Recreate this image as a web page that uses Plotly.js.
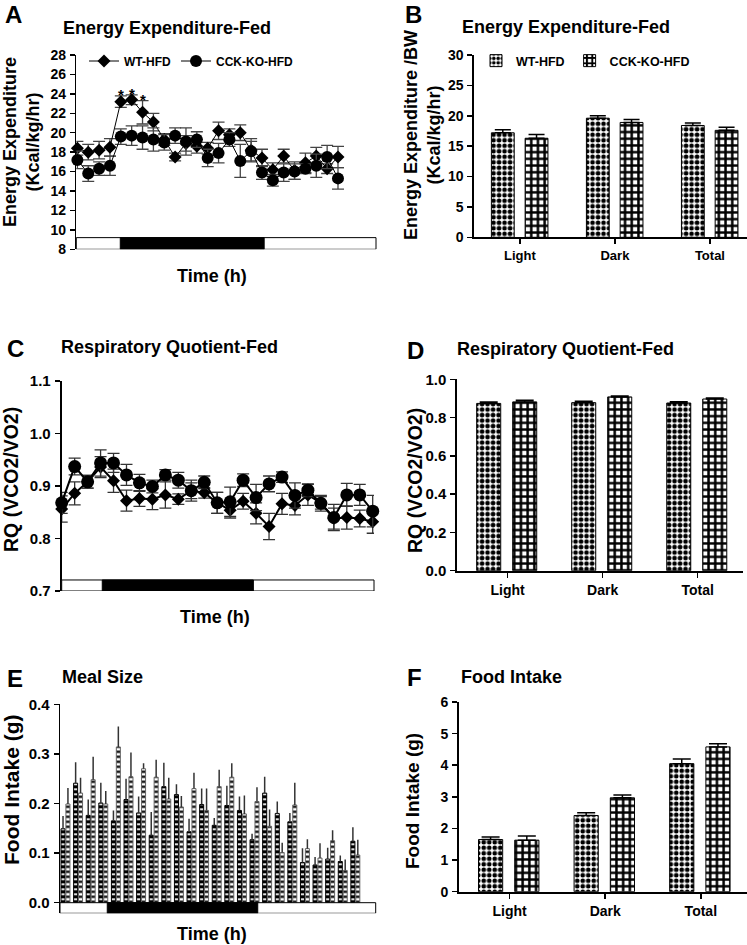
<!DOCTYPE html>
<html>
<head>
<meta charset="utf-8">
<script src="https://cdn.plot.ly/plotly-3.0.1.min.js"></script>
<style>html,body{margin:0;padding:0;background:#fff}#chart{width:747px;height:945px}</style>
</head>
<body>
<div id="chart"></div>
<script>
// ---------------- DATA ----------------
const seriesNames = ['WT-HFD', 'CCK-KO-HFD'];
const categories = ['Light', 'Dark', 'Total'];

// Panel A: Energy expenditure time course (25 hourly points)
const eeWT    = [18.4, 18.0, 18.2, 18.5, 23.2, 23.4, 22.1, 21.1, 19.3, 17.5, 18.9, 18.6, 18.4, 20.2, 19.8, 20.0, 18.2, 17.4, 16.2, 17.6, 16.1, 16.9, 17.6, 16.3, 17.5];
const eeWTerr = [0.7, 0.8, 0.9, 0.9, 0.6, 0.5, 1.2, 0.9, 0.6, 0.4, 0.8, 0.7, 0.6, 0.9, 0.6, 0.8, 1.2, 0.9, 0.7, 0.7, 0.9, 1.0, 0.9, 0.5, 1.1];
const eeKO    = [17.2, 15.8, 16.3, 16.6, 19.6, 19.7, 19.5, 19.3, 19.0, 19.7, 19.1, 19.3, 17.4, 17.9, 19.3, 17.1, 18.1, 15.9, 15.1, 15.9, 16.0, 16.3, 16.6, 17.5, 15.3];
const eeKOerr = [0.9, 0.8, 0.7, 1.0, 0.8, 1.0, 1.2, 1.2, 0.8, 0.8, 1.4, 0.8, 0.9, 1.0, 0.7, 1.7, 1.0, 0.7, 0.6, 0.9, 0.8, 0.5, 1.2, 1.2, 1.1];
const eeSig   = [4, 5, 6];   // indices marked with *

// Panel B: Energy expenditure / BW
const eeBarWT    = [17.2, 19.6, 18.4];
const eeBarWTerr = [0.5, 0.4, 0.4];
const eeBarKO    = [16.3, 18.9, 17.6];
const eeBarKOerr = [0.6, 0.5, 0.5];

// Panel C: RQ time course
const rqWT    = [0.856, 0.886, 0.908, 0.936, 0.910, 0.872, 0.876, 0.875, 0.883, 0.875, 0.891, 0.887, 0.868, 0.854, 0.871, 0.848, 0.823, 0.866, 0.863, 0.883, 0.868, 0.838, 0.840, 0.838, 0.832];
const rqWTerr = [0.025, 0.022, 0.012, 0.020, 0.022, 0.020, 0.015, 0.020, 0.025, 0.010, 0.015, 0.010, 0.020, 0.015, 0.015, 0.020, 0.025, 0.020, 0.018, 0.020, 0.012, 0.020, 0.022, 0.016, 0.022];
const rqKO    = [0.868, 0.937, 0.908, 0.944, 0.944, 0.921, 0.906, 0.899, 0.921, 0.911, 0.891, 0.907, 0.868, 0.870, 0.911, 0.878, 0.904, 0.917, 0.882, 0.892, 0.867, 0.840, 0.883, 0.883, 0.852];
const rqKOerr = [0.020, 0.016, 0.012, 0.025, 0.018, 0.020, 0.016, 0.012, 0.010, 0.015, 0.020, 0.012, 0.020, 0.028, 0.012, 0.025, 0.015, 0.010, 0.024, 0.012, 0.015, 0.025, 0.022, 0.020, 0.030];

// Panel D: RQ bars
const rqBarWT    = [0.874, 0.878, 0.876];
const rqBarWTerr = [0.008, 0.007, 0.007];
const rqBarKO    = [0.882, 0.908, 0.897];
const rqBarKOerr = [0.008, 0.005, 0.005];

// Panel E: Meal size (24 hourly pairs)
const mealWT    = [0.149, 0.241, 0.176, 0.201, 0.165, 0.208, 0.181, 0.136, 0.234, 0.218, 0.143, 0.198, 0.156, 0.196, 0.186, 0.127, 0.221, 0.180, 0.163, 0.081, 0.076, 0.088, 0.083, 0.124];
const mealWTerr = [0.026, 0.042, 0.032, 0.041, 0.021, 0.042, 0.033, 0.047, 0.048, 0.021, 0.026, 0.032, 0.015, 0.040, 0.028, 0.012, 0.033, 0.024, 0.018, 0.029, 0.016, 0.023, 0.012, 0.028];
const mealKO    = [0.199, 0.221, 0.248, 0.199, 0.314, 0.254, 0.270, 0.253, 0.209, 0.193, 0.230, 0.186, 0.234, 0.253, 0.179, 0.204, 0.154, 0.101, 0.197, 0.109, 0.090, 0.125, 0.065, 0.096];
const mealKOerr = [0.032, 0.031, 0.046, 0.026, 0.041, 0.049, 0.011, 0.035, 0.043, 0.022, 0.032, 0.044, 0.034, 0.028, 0.037, 0.029, 0.034, 0.020, 0.045, 0.019, 0.030, 0.021, 0.022, 0.031];

// Panel F: Food intake
const fiWT    = [1.65, 2.41, 4.05];
const fiWTerr = [0.08, 0.09, 0.15];
const fiKO    = [1.63, 2.97, 4.58];
const fiKOerr = [0.13, 0.09, 0.10];

// ---------------- STYLE / LAYOUT HELPERS ----------------
const W = 747, H = 945;
const FONT = 'Liberation Sans, Arial, Helvetica, sans-serif';
const px = v => v / W;
const py = v => 1 - v / H;
const idx = arr => arr.map((_, i) => i);
const zeros = arr => arr.map(() => 0);

const patWT = {shape: '.', size: 5.5, solidity: 0.55, bgcolor: 'white', fgcolor: 'black', fgopacity: 1, fillmode: 'replace'};
const patKO = {shape: '+', size: 6.7, solidity: 0.6, bgcolor: 'white', fgcolor: 'black', fgopacity: 1, fillmode: 'replace'};
const patMealWT = {shape: '-', size: 5, solidity: 0.65, bgcolor: 'white', fgcolor: 'black', fgopacity: 1, fillmode: 'replace'};
const patMealKO = {shape: '-', size: 5, solidity: 0.45, bgcolor: 'white', fgcolor: 'black', fgopacity: 1, fillmode: 'replace'};

function tickFont(size) { return {family: FONT, size: size, color: 'black', weight: 'bold'}; }

function lineTrace(x, y, err, name, symbol, msize, lw, xa, ya, legend, show, errW, errC) {
  return {
    type: 'scatter', mode: 'lines+markers', x: x, y: y, name: name,
    xaxis: xa, yaxis: ya, legend: legend, showlegend: show, cliponaxis: false,
    line: {color: 'black', width: lw},
    marker: {symbol: symbol, size: msize, color: 'black'},
    error_y: {type: 'data', array: err, visible: true, color: errC, thickness: 1.3, width: errW}
  };
}

function barTrace(y, err, name, pat, offset, width, xa, ya, legend, show, capW) {
  return {
    type: 'bar', x: categories, y: y, name: name, xaxis: xa, yaxis: ya,
    legend: legend, showlegend: show, offset: offset, width: width,
    marker: {color: 'white', pattern: pat, line: {color: 'black', width: 1}},
    error_y: {type: 'data', symmetric: false, array: err, arrayminus: zeros(err), visible: true, color: 'black', thickness: 1.5, width: capW}
  };
}

function mealTrace(y, err, name, pat, offset, outline) {
  return {
    type: 'bar', x: idx(y), y: y, name: name, xaxis: 'x5', yaxis: 'y5', showlegend: false,
    offset: offset, width: 0.32,
    marker: {color: 'white', pattern: pat, line: {color: outline, width: 1}},
    error_y: {type: 'data', symmetric: false, array: err, arrayminus: zeros(err), visible: true, color: '#333', thickness: 1.5, width: 0}
  };
}

const hours = idx(eeWT);

const traces = [
  // A
  lineTrace(hours, eeWT, eeWTerr, seriesNames[0], 'diamond', 10, 1, 'x', 'y', 'legend', true, 6, '#444'),
  lineTrace(hours, eeKO, eeKOerr, seriesNames[1], 'circle', 12, 1, 'x', 'y', 'legend', true, 6, '#444'),
  // B
  barTrace(eeBarWT, eeBarWTerr, seriesNames[0], patWT, -0.30, 0.24, 'x2', 'y2', 'legend2', true, 8),
  barTrace(eeBarKO, eeBarKOerr, seriesNames[1], patKO, 0.055, 0.24, 'x2', 'y2', 'legend2', true, 8),
  // C
  lineTrace(idx(rqWT), rqWT, rqWTerr, seriesNames[0], 'diamond', 10, 2, 'x3', 'y3', 'legend', false, 6, '#333'),
  lineTrace(idx(rqKO), rqKO, rqKOerr, seriesNames[1], 'circle', 13, 2, 'x3', 'y3', 'legend', false, 6, '#333'),
  // D
  barTrace(rqBarWT, rqBarWTerr, seriesNames[0], patWT, -0.326, 0.253, 'x4', 'y4', 'legend2', false, 9),
  barTrace(rqBarKO, rqBarKOerr, seriesNames[1], patKO, 0.053, 0.253, 'x4', 'y4', 'legend2', false, 9),
  // E
  mealTrace(mealWT, mealWTerr, seriesNames[0], patMealWT, -0.37, 'black'),
  mealTrace(mealKO, mealKOerr, seriesNames[1], patMealKO, 0.02, '#666'),
  // F
  barTrace(fiWT, fiWTerr, seriesNames[0], patWT, -0.326, 0.253, 'x6', 'y6', 'legend2', false, 9),
  barTrace(fiKO, fiKOerr, seriesNames[1], patKO, 0.053, 0.253, 'x6', 'y6', 'legend2', false, 9)
];

// axis builders
function hiddenX(domain, range, anchor) {
  return {domain: domain, range: range, anchor: anchor, showline: false, showticklabels: false, ticks: '',
          showgrid: false, zeroline: false, fixedrange: true};
}
function catX(domain, range, anchor, fs) {
  return {domain: domain, range: range, anchor: anchor, showline: true, linecolor: 'black', linewidth: 2,
          ticks: 'outside', ticklen: 5, tickwidth: 1.5, tickcolor: 'black', tickfont: tickFont(fs),
          showgrid: false, zeroline: false, fixedrange: true};
}
function valY(domain, range, anchor, tickvals, fmt, fs, lw) {
  return {domain: domain, range: range, anchor: anchor, showline: true, linecolor: 'black', linewidth: lw,
          ticks: 'outside', ticklen: 5, tickwidth: 1.5, tickcolor: 'black', tickvals: tickvals,
          tickformat: fmt, tickfont: tickFont(fs), ticklabelstandoff: 1,
          showgrid: false, zeroline: false, fixedrange: true};
}

// light/dark bars (positions in axis units)
const ldA = {dark: [3.95, 17.2], y: [8, 9.2]};
const ldC = {dark: [3.13, 14.79], y: [0.7, 0.721]};
const ldE = {dark: [3.3, 15.24], y: [-0.0214, 0]};
function ldShapes(xa, ya, ld) {
  return [
    {type: 'rect', xref: xa + ' domain', yref: ya, x0: 0, x1: 1, y0: ld.y[0], y1: ld.y[1],
     fillcolor: 'white', line: {color: 'black', width: 1}, layer: 'above'},
    {type: 'rect', xref: xa, yref: ya, x0: ld.dark[0], x1: ld.dark[1], y0: ld.y[0], y1: ld.y[1],
     fillcolor: 'black', line: {color: 'black', width: 1}, layer: 'above'}
  ];
}

function txt(text, x, y, size, opts) {
  return Object.assign({text: text, xref: 'paper', yref: 'paper', x: px(x), y: py(y), showarrow: false,
    xanchor: 'left', yanchor: 'middle', font: {family: FONT, size: size, color: 'black', weight: 'bold'}}, opts || {});
}
function ytitle(text, x, y, size) {
  return txt(text, x, y, size, {textangle: -90, xanchor: 'center', yanchor: 'middle'});
}

const annotations = [
  // panel letters
  txt('A', 4, 0, 24, {yanchor: 'top', borderpad: 0}), txt('B', 404, 0, 24, {yanchor: 'top', borderpad: 0}),
  txt('C', 5, 349, 24), txt('D', 405, 350, 24), txt('E', 5, 678, 24), txt('F', 405, 677, 24),
  // panel titles
  txt('Energy Expenditure-Fed', 61, 28, 18), txt('Energy Expenditure-Fed', 460, 27, 18),
  txt('Respiratory Quotient-Fed', 59, 347, 18), txt('Respiratory Quotient-Fed', 455, 349, 18),
  txt('Meal Size', 60, 677, 18), txt('Food Intake', 459, 677, 18),
  // y titles
  ytitle('Energy Expenditure<br>(Kcal/kg/hr)', 21, 142, 18),
  ytitle('Energy Expenditure /BW<br>(Kcal/kg/hr)', 423, 135, 18),
  ytitle('RQ (VCO2/VO2)', 11, 480, 19.5),
  ytitle('RQ (VCO2/VO2)', 415, 481, 19.5),
  ytitle('Food Intake (g)', 11, 790, 21),
  ytitle('Food Intake (g)', 412, 801, 19),
  // x titles
  txt('Time (h)', 212, 276, 18, {xanchor: 'center'}),
  txt('Time (h)', 215, 617, 18, {xanchor: 'center'}),
  txt('Time (h)', 212, 934, 18, {xanchor: 'center'})
];
// significance asterisks on WT points
eeSig.forEach(i => annotations.push({
  text: '*', xref: 'x', yref: 'y', x: hours[i], y: eeWT[i] + eeWTerr[i], showarrow: false,
  xanchor: 'center', yanchor: 'middle', yshift: 1, font: {family: FONT, size: 15, color: 'black', weight: 'bold'}
}));

const layout = {
  width: W, height: H, margin: {l: 0, r: 0, t: 0, b: 0},
  paper_bgcolor: 'white', plot_bgcolor: 'rgba(0,0,0,0)',
  font: {family: FONT, color: 'black'},
  barmode: 'overlay', showlegend: true,
  // A
  xaxis: hiddenX([px(76.3), px(376)], [-0.1, 27.5], 'y'),
  yaxis: valY([py(249.3), py(55)], [8, 28], 'x', [8,10,12,14,16,18,20,22,24,26,28], '', 14, 1.5),
  // B
  xaxis2: catX([px(474.3), 1], [-0.48, 2.39], 'y2', 13),
  yaxis2: valY([py(237.3), py(55)], [0, 30], 'x2', [0,5,10,15,20,25,30], '', 14, 2),
  // C
  xaxis3: hiddenX([px(61.7), px(374)], [0, 24.1], 'y3'),
  yaxis3: valY([py(591), py(381)], [0.7, 1.1], 'x3', [0.7,0.8,0.9,1.0,1.1], '.1f', 15, 2),
  // D
  xaxis4: catX([px(457.3), px(743.3)], [-0.53, 2.48], 'y4', 14),
  yaxis4: valY([py(570.7), py(379.3)], [0, 1], 'x4', [0,0.2,0.4,0.6,0.8,1.0], '.1f', 15, 2),
  // E
  xaxis5: hiddenX([px(60), px(375.7)], [-0.45, 24.6], 'y5'),
  yaxis5: valY([py(913.3), py(704.3)], [-0.0214, 0.4], 'x5', [0,0.1,0.2,0.3,0.4], '.1f', 15, 1.5),
  // F
  xaxis6: catX([px(459), px(746.7)], [-0.53, 2.48], 'y6', 14),
  yaxis6: valY([py(891.7), py(702)], [0, 6], 'x6', [0,1,2,3,4,5,6], '', 14, 2),
  legend: {orientation: 'h', x: px(84), y: py(61), xanchor: 'left', yanchor: 'middle',
           bgcolor: 'rgba(0,0,0,0)', font: {family: FONT, size: 12, color: 'black', weight: 'bold'},
           itemclick: false, itemdoubleclick: false},
  legend2: {orientation: 'h', x: px(476), y: py(61), xanchor: 'left', yanchor: 'middle',
           bgcolor: 'rgba(0,0,0,0)', font: {family: FONT, size: 12.5, color: 'black', weight: 'bold'},
           itemclick: false, itemdoubleclick: false},
  shapes: [].concat(ldShapes('x', 'y', ldA), ldShapes('x3', 'y3', ldC), ldShapes('x5', 'y5', ldE)),
  annotations: annotations
};

Plotly.newPlot('chart', traces, layout, {staticPlot: true, displayModeBar: false});
</script>
</body>
</html>
